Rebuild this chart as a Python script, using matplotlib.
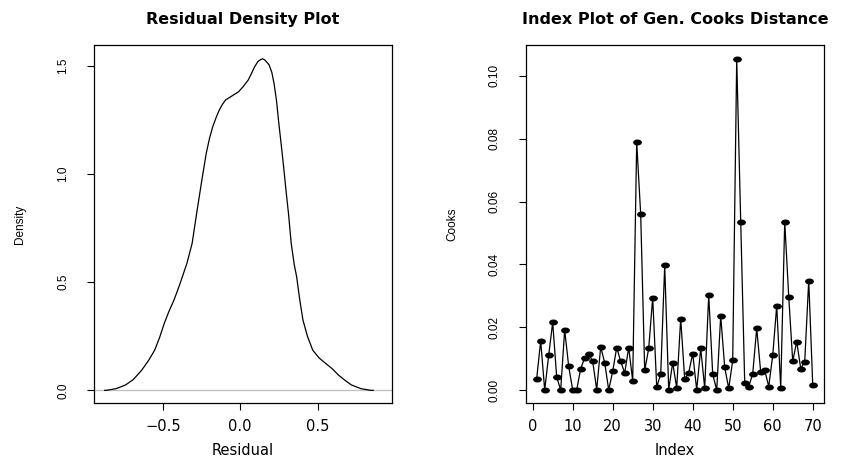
import numpy as np
import matplotlib
matplotlib.use("Agg")
import matplotlib.pyplot as plt
from matplotlib.path import Path
from matplotlib.transforms import Affine2D

plt.rcParams['font.family'] = ['Liberation Sans', 'DejaVu Sans']

# Residual density curve
resid = [-0.875, -0.865, -0.80, -0.74, -0.69, -0.635, -0.59, -0.552, -0.52, -0.49, -0.46,
         -0.427, -0.39, -0.344, -0.31, -0.281, -0.25, -0.219, -0.198, -0.177, -0.155,
         -0.135, -0.115, -0.094, -0.052, -0.010, 0.020, 0.052, 0.073, 0.094, 0.115,
         0.135, 0.146, 0.160, 0.1875, 0.205, 0.219, 0.235, 0.25, 0.265, 0.281, 0.297,
         0.3125, 0.33, 0.35, 0.365, 0.385, 0.406, 0.435, 0.469, 0.51, 0.552, 0.595,
         0.635, 0.68, 0.719, 0.78, 0.844, 0.86]
density = [0.0, 0.0, 0.008, 0.025, 0.05, 0.094, 0.14, 0.186, 0.245, 0.31, 0.365,
           0.418, 0.49, 0.587, 0.68, 0.818, 0.96, 1.096, 1.165, 1.219, 1.262,
           1.296, 1.322, 1.343, 1.362, 1.381, 1.405, 1.435, 1.465, 1.497, 1.521,
           1.531, 1.533, 1.528, 1.505, 1.47, 1.42, 1.34, 1.235, 1.14, 1.034, 0.92,
           0.818, 0.68, 0.58, 0.526, 0.42, 0.325, 0.25, 0.186, 0.15, 0.125, 0.10,
           0.071, 0.045, 0.025, 0.008, 0.0, 0.0]

# Generalised Cook's distance by index
index = list(range(1, 71))
cooks = [0.0037, 0.0157, 0.0001, 0.0111, 0.0216, 0.0042, 0.0001, 0.0192, 0.0076, 0.0001,
         0.0001, 0.0069, 0.0103, 0.0117, 0.0092, 0.0002, 0.0138, 0.0088, 0.0001, 0.0060,
         0.0136, 0.0092, 0.0055, 0.0136, 0.0030, 0.0789, 0.0559, 0.0063, 0.0133, 0.0295,
         0.0011, 0.0051, 0.0397, 0.0002, 0.0088, 0.0007, 0.0228, 0.0035, 0.0056, 0.0117,
         0.0001, 0.0133, 0.0007, 0.0303, 0.0051, 0.0001, 0.0237, 0.0073, 0.0006, 0.0095,
         0.1053, 0.0536, 0.0024, 0.0011, 0.0053, 0.0197, 0.0057, 0.0064, 0.0012, 0.0111,
         0.0269, 0.0007, 0.0536, 0.0298, 0.0092, 0.0155, 0.0069, 0.0091, 0.0349, 0.0018]

fig = plt.figure(figsize=(8.5, 4.62), dpi=100)
ax1 = fig.add_axes([0.1106, 0.127, 0.3509, 0.775])
ax2 = fig.add_axes([0.6188, 0.127, 0.3510, 0.775])

WIDE = ['DejaVu Sans']

def r_style(ax):
    for s in ax.spines.values():
        s.set_linewidth(0.9)
        s.set_color('black')
    ax.tick_params(direction='out', length=5, width=0.8)
    ax.tick_params(axis='x', pad=6)
    ax.tick_params(axis='y', pad=13, labelsize=8.5)
    for lab in ax.get_xticklabels():
        lab.set_family(WIDE)
        lab.set_fontsize(10.5)
    for lab in ax.get_yticklabels():
        lab.set_rotation(90)
        lab.set_va('center')

# Left: density
ax1.axhline(0, color='#bebebe', lw=0.9)
ax1.plot(resid, density, color='black', lw=0.9)
ax1.set_xlim(-0.944, 0.983)
ax1.set_ylim(-0.06, 1.596)
ax1.set_xticks([-0.5, 0.0, 0.5])
ax1.set_xticklabels(['\u22120.5', '0.0', '0.5'])
ax1.set_yticks([0.0, 0.5, 1.0, 1.5])
ax1.set_yticklabels(['0.0', '0.5', '1.0', '1.5'])
ax1.set_xlabel('Residual', fontsize=10.5, family=WIDE, labelpad=7)
ax1.set_ylabel('Density', fontsize=8.5, labelpad=22)
ax1.set_title('Residual Density Plot', fontsize=11.5, fontweight='bold',
              family=WIDE, pad=15)
r_style(ax1)

# Right: Cook's distance
ell = Path.unit_circle().transformed(Affine2D().scale(1.0, 0.62))
ax2.plot(index, cooks, color='black', lw=0.9, marker=ell, markersize=5.3,
         markerfacecolor='black', markeredgecolor='black')
ax2.set_xlim(-1.675, 72.9)
ax2.set_ylim(-0.00414, 0.1097)
ax2.set_xticks(range(0, 71, 10))
ax2.set_yticks([0.0, 0.02, 0.04, 0.06, 0.08, 0.10])
ax2.set_yticklabels(['0.00', '0.02', '0.04', '0.06', '0.08', '0.10'])
ax2.set_xlabel('Index', fontsize=10.5, family=WIDE, labelpad=7)
ax2.set_ylabel('Cooks', fontsize=8.5, labelpad=22)
ax2.set_title('Index Plot of Gen. Cooks Distance', fontsize=11.5, fontweight='bold',
              family=WIDE, pad=15)
r_style(ax2)

fig.savefig('out.png', dpi=100, facecolor='white')
